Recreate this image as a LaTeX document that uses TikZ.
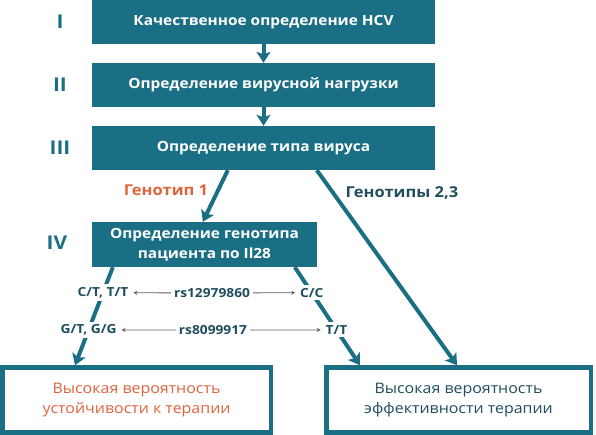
\documentclass[tikz,border=0pt]{standalone}
\usepackage{fontspec}
\setmainfont{Open Sans}[FakeStretch=1.1]
\usetikzlibrary{arrows.meta,calc}

\definecolor{hcvteal}{RGB}{27,111,133}
\definecolor{hcvorange}{RGB}{222,100,60}
\definecolor{hcvdark}{RGB}{30,78,94}
\definecolor{hcvgray}{RGB}{95,95,95}

\begin{document}
\begin{tikzpicture}[x=1pt,y=-1pt,
  stage/.style={fill=hcvteal,text=white,font=\bfseries\fontsize{14}{20}\selectfont,
    minimum height=44pt,inner sep=0pt,align=center},
  result/.style={draw=hcvteal,line width=4.5pt,fill=white,minimum height=65pt,
    align=center,font=\fontsize{14.5}{19.5}\selectfont},
  level/.style={text=hcvteal,font=\bfseries\fontsize{19}{19}\selectfont},
  flow/.style={draw=hcvteal,line width=4pt,-{Stealth[length=11pt,width=14pt,inset=2.5pt]}},
  allele/.style={fill=white,text=hcvdark,font=\bfseries\fontsize{12.5}{14}\selectfont,inner sep=3pt},
  snp/.style={draw=hcvgray,line width=0.8pt,-{Stealth[length=4pt,width=4pt]}}]
\useasboundingbox (0,0) rectangle (596,435);

% stages
\node[stage,minimum width=343pt] (b1) at (263.5,22) {Качественное определение HCV};
\node[stage,minimum width=343pt] (b2) at (263.5,85) {Определение вирусной нагрузки};
\node[stage,minimum width=343pt] (b3) at (263.5,148) {Определение типа вируса};
\node[stage,minimum width=225pt,minimum height=45pt] (b4) at (204.5,244.5)
  {Определение генотипа\\пациента по Il28};

\node[level] (n1) at (60,22) {I};
\node[level] (n2) at (60,85) {II};
\node[level] (n3) at (60,148) {III};
\node[level] (n4) at (57,243) {IV};

% results
\node[result,minimum width=268.5pt,text=hcvorange] (r1) at (136.5,400)
  {Высокая вероятность\\устойчивости к терапии};
\node[result,minimum width=264.5pt,text=hcvdark] (r2) at (458.5,400)
  {Высокая вероятность\\эффективности терапии};

\draw[flow] (b1) -- (b2);
\draw[flow] (b2) -- (b3);
\draw[flow] ($(b3.south west)+(136,0)$) -- ($(b4.north west)+(111,0)$);
\draw[flow] ($(b3.south west)+(225,0)$) -- ($(r2.north west)+(133,0)$);

\node[text=hcvorange,font=\bfseries\fontsize{15}{15}\selectfont] (g1) at (166,190) {Генотип 1};
\node[text=hcvdark,font=\bfseries\fontsize{15}{15}\selectfont] (g23) at (402,193) {Генотипы 2,3};

% Il28 legs
\draw[flow] ($(b4.south west)+(21,0)$) --
  node[allele,pos=0.26] (ct) {C/T, T/T}
  node[allele,pos=0.64] (gt) {G/T, G/G} ($(r1.north west)+(75,0)$);
\draw[flow] ($(b4.south west)+(203,0)$) --
  node[allele,pos=0.26] (cc) {C/C}
  node[allele,pos=0.64] (tt) {T/T} ($(r2.north west)+(36,0)$);

\node[allele] (rs1) at (212,293) {rs12979860};
\node[allele] (rs2) at (213,330) {rs8099917};
\draw[snp] (rs1) -- (ct);
\draw[snp] (rs1) -- (cc);
\draw[snp] (rs2) -- (gt);
\draw[snp] (rs2) -- (tt);
\end{tikzpicture}
\end{document}
